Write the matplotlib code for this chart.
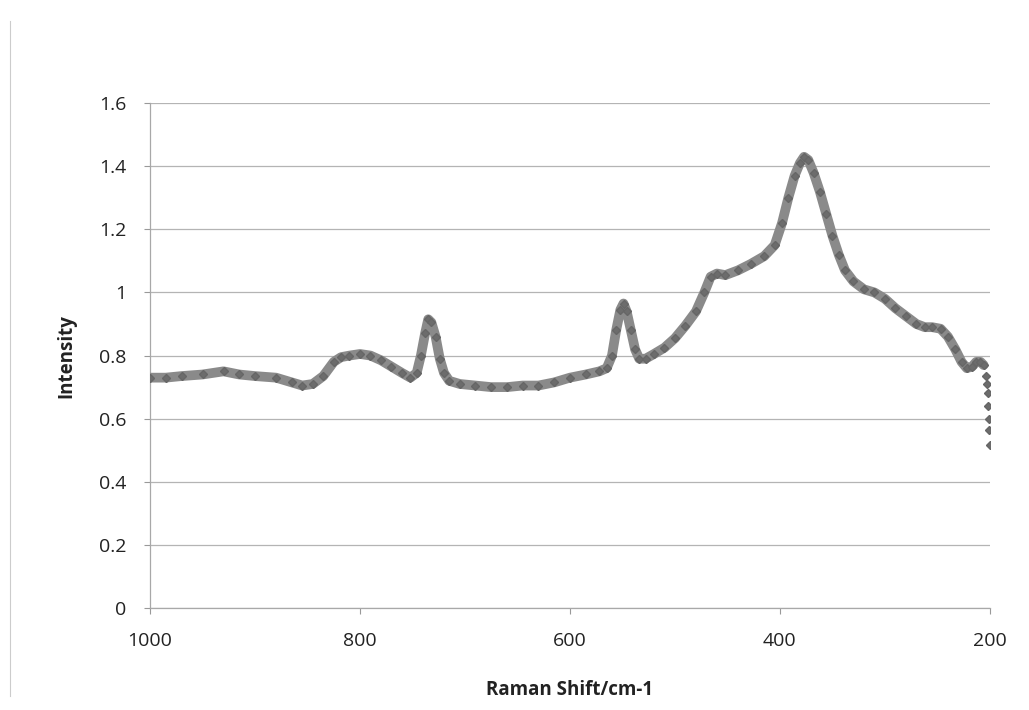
import matplotlib
matplotlib.use('Agg')
import matplotlib.pyplot as plt
from matplotlib.lines import Line2D

# values (Raman shift, intensity)
raman_shift = [1000, 985, 970, 950, 930, 915, 900, 880, 865, 855, 845, 835, 825, 818, 810, 800,
               790, 780, 770, 760, 752, 746, 742, 738, 735, 732, 728, 724, 720, 715, 705, 690,
               675, 660, 645, 630, 615, 600, 585, 572, 565, 560, 556, 552, 549, 546, 542, 538,
               534, 528, 520, 510, 500, 490, 480, 472, 466, 460, 452, 440, 428, 415, 405, 398,
               392, 386, 381, 377, 373, 368, 362, 356, 350, 344, 338, 330, 320, 310, 300, 290,
               280, 270, 262, 255, 247, 240, 233, 227, 222, 217, 213, 209, 206, 204, 203, 202,
               201.5, 201, 200.5, 200]
intensity = [0.73, 0.73, 0.735, 0.74, 0.75, 0.74, 0.735, 0.73, 0.715, 0.705, 0.71, 0.735, 0.78,
             0.795, 0.80, 0.805, 0.80, 0.785, 0.765, 0.745, 0.73, 0.745, 0.80, 0.87, 0.915, 0.905,
             0.86, 0.79, 0.745, 0.72, 0.71, 0.705, 0.70, 0.70, 0.705, 0.705, 0.715, 0.73, 0.74,
             0.75, 0.76, 0.80, 0.88, 0.945, 0.965, 0.94, 0.88, 0.82, 0.79, 0.79, 0.805, 0.825,
             0.855, 0.895, 0.94, 1.00, 1.05, 1.06, 1.055, 1.07, 1.09, 1.115, 1.15, 1.22, 1.30,
             1.37, 1.41, 1.43, 1.42, 1.38, 1.32, 1.25, 1.18, 1.12, 1.07, 1.035, 1.01, 1.00, 0.98,
             0.95, 0.925, 0.90, 0.89, 0.89, 0.885, 0.86, 0.82, 0.78, 0.76, 0.765, 0.78, 0.78, 0.77,
             0.736, 0.71, 0.68, 0.64, 0.60, 0.565, 0.515]

y_ticks = [0, 0.2, 0.4, 0.6, 0.8, 1.0, 1.2, 1.4, 1.6]
y_labels = ['0', '0.2', '0.4', '0.6', '0.8', '1', '1.2', '1.4', '1.6']
x_ticks = [1000, 800, 600, 400, 200]

plt.rcParams['font.family'] = ['Open Sans', 'DejaVu Sans']

fig = plt.figure(figsize=(10.29, 7.10), dpi=100)
ax = fig.add_axes([0.1458, 0.1437, 0.8162, 0.711])

ax.plot(raman_shift[:-7], intensity[:-7], color='#8a8a8a', linewidth=7, solid_capstyle='round', zorder=3)
ax.plot(raman_shift, intensity, linestyle='none', marker='D', markersize=4,
        color='#6c6c6c', markeredgecolor='#666666', zorder=4)

ax.set_xlim(1000, 200)
ax.set_ylim(0, 1.6)
ax.set_xticks(x_ticks)
ax.set_yticks(y_ticks)
ax.set_yticklabels(y_labels)
ax.tick_params(axis='both', labelsize=14, colors='#999999', labelcolor='#222222', length=4)
ax.tick_params(axis='x', pad=13)
ax.tick_params(axis='y', pad=13)

ax.grid(True, axis='y', color='#b4b4b4', linewidth=0.9)
ax.set_axisbelow(True)
for side in ['top', 'right']:
    ax.spines[side].set_visible(False)
for side in ['left', 'bottom']:
    ax.spines[side].set_color('#a8a8a8')
    ax.spines[side].set_linewidth(0.9)

ax.set_xlabel('Raman Shift/cm-1', fontsize=13.5, fontweight='bold', color='#222222', labelpad=22)
ax.set_ylabel('Intensity', fontsize=13.5, fontweight='bold', color='#222222', labelpad=16)

# faint frame edge at the left of the scan
fig.add_artist(Line2D([0.01, 0.01], [0.02, 0.97], color='#cccccc', linewidth=0.8))

fig.savefig('out.png', dpi=100)
